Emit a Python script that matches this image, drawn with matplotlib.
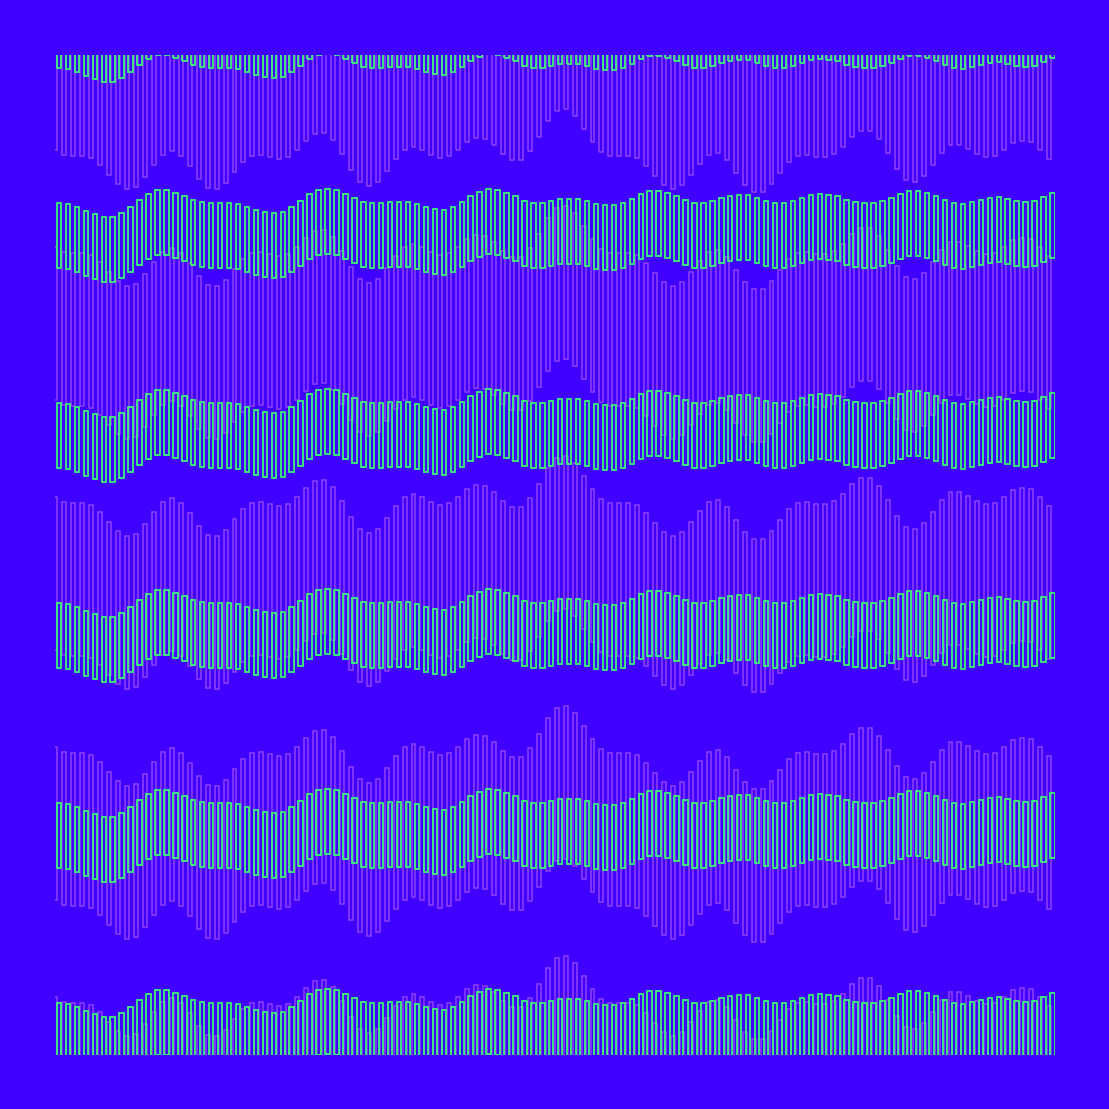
import numpy as np
import matplotlib
matplotlib.use("Agg")
import matplotlib.pyplot as plt

# top of the reference green band (data units), one per bar
green_top = [251.7, 250.7, 247.7, 244.0, 240.7, 238.0, 238.3, 242.3, 248.3, 255.3,
             261.0, 264.7, 264.7, 262.3, 258.7, 255.3, 252.7, 252.0, 252.0, 252.0,
             250.7, 248.0, 245.0, 242.7, 241.7, 243.0, 247.7, 254.3, 260.7, 265.0,
             266.3, 264.7, 260.7, 256.7, 253.3, 252.0, 252.0, 253.0, 253.3, 252.7,
             250.7, 247.7, 245.7, 245.0, 248.3, 253.3, 258.7, 263.3, 266.0, 265.3,
             262.3, 258.7, 254.0, 252.0, 252.0, 253.7, 255.7, 256.3, 255.7, 254.0,
             251.3, 249.7, 250.0, 252.3, 256.3, 260.7, 263.7, 264.3, 262.3, 258.7,
             254.7, 252.3, 252.3, 254.0, 256.7, 259.3, 260.3, 259.7, 257.0, 254.0,
             252.0, 252.0, 254.0, 256.7, 260.0, 261.3, 260.3, 258.7, 255.0, 252.7,
             252.0, 252.3, 253.7, 257.0, 261.0, 264.0, 264.3, 262.3, 258.7, 254.7,
             252.0, 251.3, 252.7, 255.3, 257.3, 258.3, 256.0, 253.7, 252.7, 254.3,
             258.0, 262.3]

# top of the reference purple band (data units), one per bar
purple_top = [308.3, 303.3, 301.7, 302.0, 300.0, 293.3, 283.3, 274.0, 269.3, 271.3,
              281.0, 293.3, 303.3, 307.3, 302.3, 291.7, 279.0, 270.3, 269.0, 274.7,
              285.7, 295.7, 302.3, 303.0, 301.0, 299.3, 301.3, 308.0, 317.0, 324.3,
              325.3, 318.0, 304.3, 288.3, 276.0, 271.7, 276.0, 287.3, 299.3, 308.0,
              310.7, 307.7, 302.7, 300.3, 302.0, 307.7, 315.7, 320.3, 319.3, 313.3,
              304.3, 298.0, 298.3, 307.3, 321.3, 337.0, 347.3, 349.3, 342.3, 329.3,
              316.3, 306.3, 302.3, 302.0, 302.0, 300.0, 292.3, 282.3, 273.0, 269.3,
              272.7, 282.7, 294.3, 303.0, 304.7, 297.7, 285.0, 273.3, 265.7, 266.3,
              273.7, 285.3, 296.3, 302.0, 302.7, 301.0, 301.3, 304.0, 311.3, 320.7,
              327.3, 327.3, 319.0, 304.7, 289.3, 278.3, 276.0, 281.7, 293.3, 305.3,
              313.0, 313.3, 309.3, 303.7, 301.3, 302.3, 307.7, 314.7, 317.3, 315.7,
              307.7, 299.0]

green_band_height = 65
green_period = 200
green_repeats = [-1, 0, 1, 2, 3, 4]

purple_band_height = 153
purple_period = 250
purple_repeats = [-1, 0, 1, 2, 3]

BG = "#4000ff"
GREEN = "#3dff72"
PURPLE = "#9444ff"

fig = plt.figure(figsize=(11.09, 11.09), dpi=100, facecolor=BG)
ax = fig.add_axes([54.5 / 1109, 54 / 1109, 1000 / 1109, 1000 / 1109])
ax.set_facecolor(BG)

x = np.arange(len(green_top))
gt = np.array(green_top)
pt = np.array(purple_top)

for k in purple_repeats:
    ax.bar(x - 0.39, purple_band_height, bottom=pt - purple_band_height + k * purple_period,
           width=0.44, fill=False, edgecolor=PURPLE, linewidth=1.1, alpha=0.95, zorder=1)

for k in green_repeats:
    ax.bar(x, green_band_height, bottom=gt - green_band_height + k * green_period,
           width=0.5, fill=False, edgecolor=GREEN, linewidth=1.25, zorder=2)

ax.set_xlim(-0.503, 111.23)
ax.set_ylim(0, 1000)
ax.axis("off")

fig.savefig("out.png", dpi=100, facecolor=BG)
